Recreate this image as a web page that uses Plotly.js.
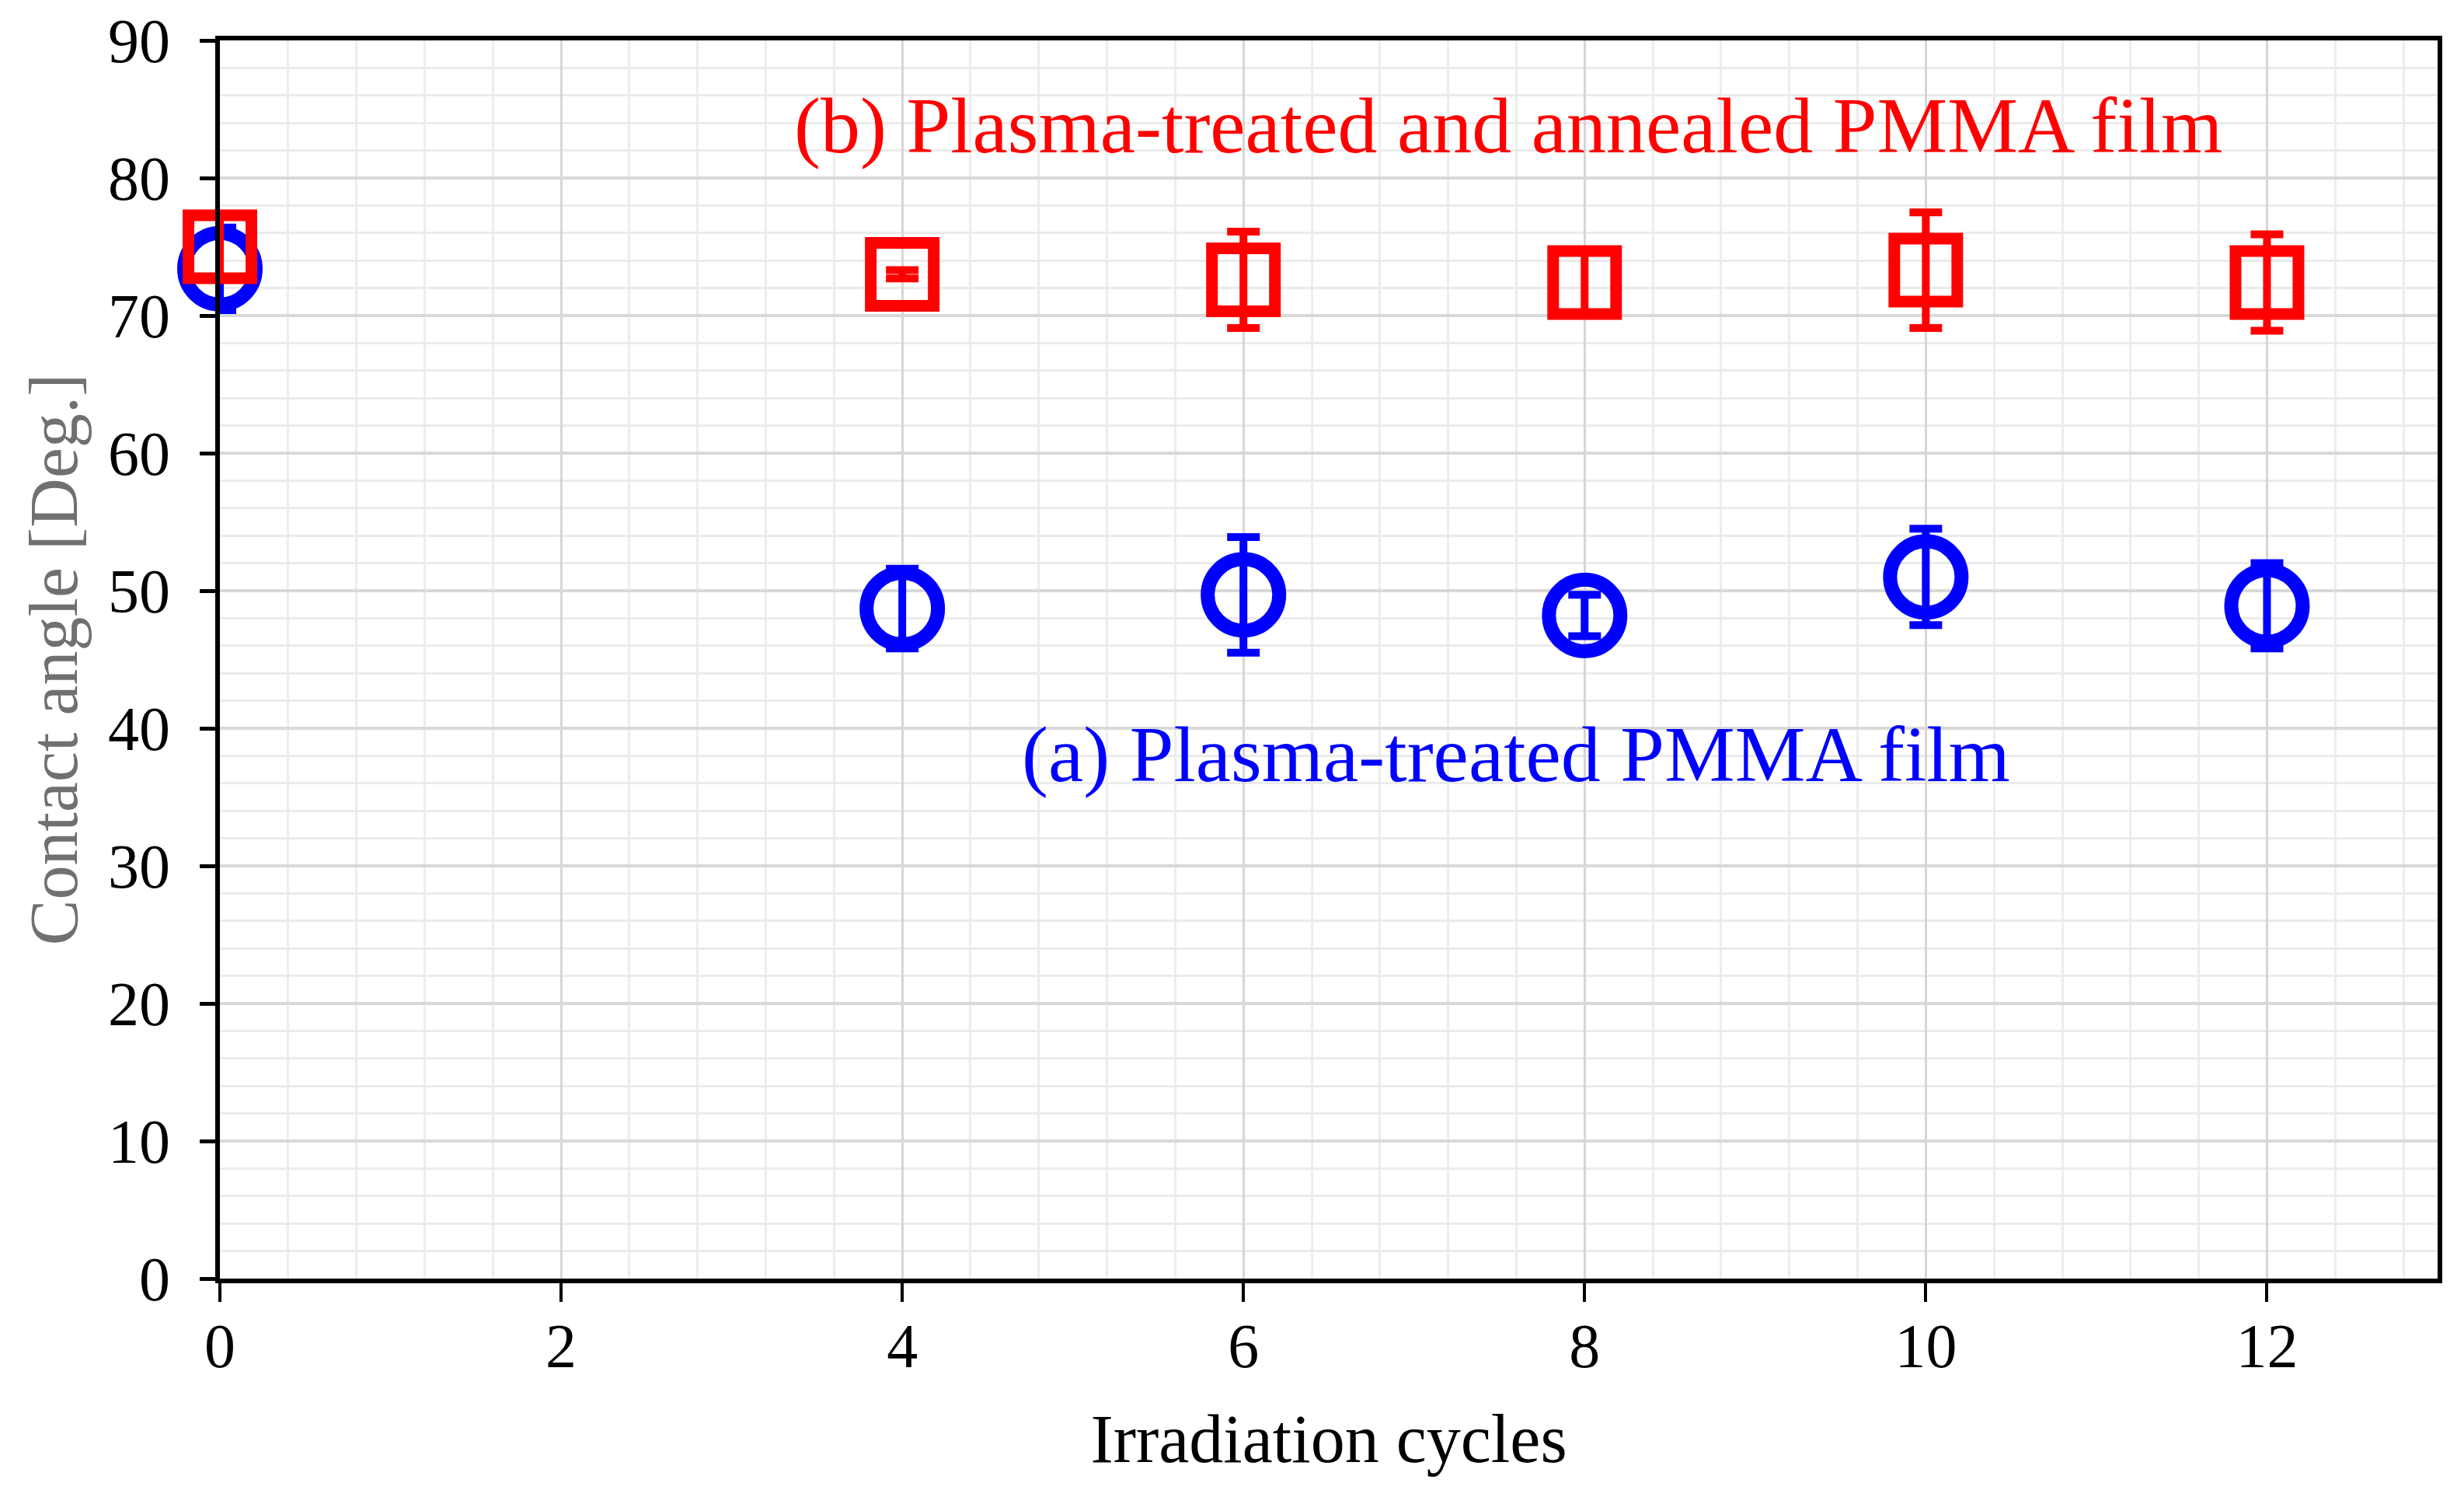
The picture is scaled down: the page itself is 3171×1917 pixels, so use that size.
<!DOCTYPE html>
<html>
<head>
<meta charset="utf-8">
<script src="https://cdn.plot.ly/plotly-3.0.1.min.js"></script>
<style>
  html, body { margin: 0; padding: 0; background: #ffffff; }
  #chart { width: 3171px; height: 1917px; }
</style>
</head>
<body>
<div id="chart"></div>
<script>
// ---- data ----
const cycles = [0, 4, 6, 8, 10, 12];
const angleA = [73.4, 48.7, 49.7, 48.2, 51.0, 48.9];   // (a) Plasma-treated PMMA film
const errA   = [3.0, 2.9, 4.2, 1.5, 3.5, 3.1];
const angleB = [75.0, 73.0, 72.6, 72.4, 73.3, 72.4];   // (b) Plasma-treated and annealed
const errB   = [2.3, 0.3, 3.5, 2.4, 4.2, 3.5];

const labelA = "(a) Plasma-treated PMMA film";
const labelB = "(b) Plasma-treated and annealed PMMA film";
const xTitle = "Irradiation cycles";
const yTitle = "Contact angle [Deg.]";

const serif = "Liberation Serif, Times New Roman, serif";
const BLUE = "#0000ff";
const RED = "#ff0000";

const traceA = {
  x: cycles, y: angleA, type: "scatter", mode: "markers", name: labelA, cliponaxis: false,
  marker: { symbol: "circle-open", size: 92, color: BLUE, line: { color: BLUE, width: 18 } },
  error_y: { type: "data", array: errA, visible: true, color: BLUE, thickness: 10, width: 21 }
};
const traceB = {
  x: cycles, y: angleB, type: "scatter", mode: "markers", name: labelB, cliponaxis: false,
  marker: { symbol: "square-open", size: 81, color: RED, line: { color: RED, width: 15 } },
  error_y: { type: "data", array: errB, visible: true, color: RED, thickness: 10, width: 21 }
};

const layout = {
  width: 3171, height: 1917,
  margin: { l: 283, r: 34, t: 52, b: 272 },
  paper_bgcolor: "#ffffff", plot_bgcolor: "#ffffff",
  showlegend: false,
  font: { family: serif, color: "#000000" },
  xaxis: {
    range: [0, 13], tick0: 0, dtick: 2,
    ticks: "outside", ticklen: 24, tickwidth: 4, tickcolor: "#000000",
    showline: true, linecolor: "#000000", linewidth: 6, mirror: true,
    zeroline: false,
    showgrid: true, gridcolor: "#d6d6d6", gridwidth: 3,
    minor: { dtick: 0.4, tick0: 0, showgrid: true, gridcolor: "#ededed", gridwidth: 3, ticks: "" },
    tickfont: { family: serif, size: 80, color: "#000000" },
    ticklabelstandoff: -12,
    title: { text: xTitle, font: { family: serif, size: 88, color: "#000000" }, standoff: 46 }
  },
  yaxis: {
    range: [0, 90], tick0: 0, dtick: 10,
    ticks: "outside", ticklen: 20, tickwidth: 5, tickcolor: "#000000",
    showline: true, linecolor: "#000000", linewidth: 6, mirror: true,
    zeroline: false,
    showgrid: true, gridcolor: "#d9d9d9", gridwidth: 4,
    minor: { dtick: 2, tick0: 0, showgrid: true, gridcolor: "#ebebeb", gridwidth: 3, ticks: "" },
    tickfont: { family: serif, size: 80, color: "#000000" },
    ticklabelstandoff: 22,
    title: { text: yTitle, font: { family: serif, size: 88, color: "#707070" }, standoff: 12 }
  },
  annotations: [
    { x: 7.55, y: 83.8, xref: "x", yref: "y", text: labelB, showarrow: false,
      xanchor: "center", yanchor: "middle", font: { family: serif, size: 102, color: RED } },
    { x: 7.6, y: 38.1, xref: "x", yref: "y", text: labelA, showarrow: false,
      xanchor: "center", yanchor: "middle", font: { family: serif, size: 102, color: BLUE } }
  ]
};

Plotly.newPlot("chart", [traceA, traceB], layout, { displayModeBar: false, staticPlot: true });
</script>
</body>
</html>
